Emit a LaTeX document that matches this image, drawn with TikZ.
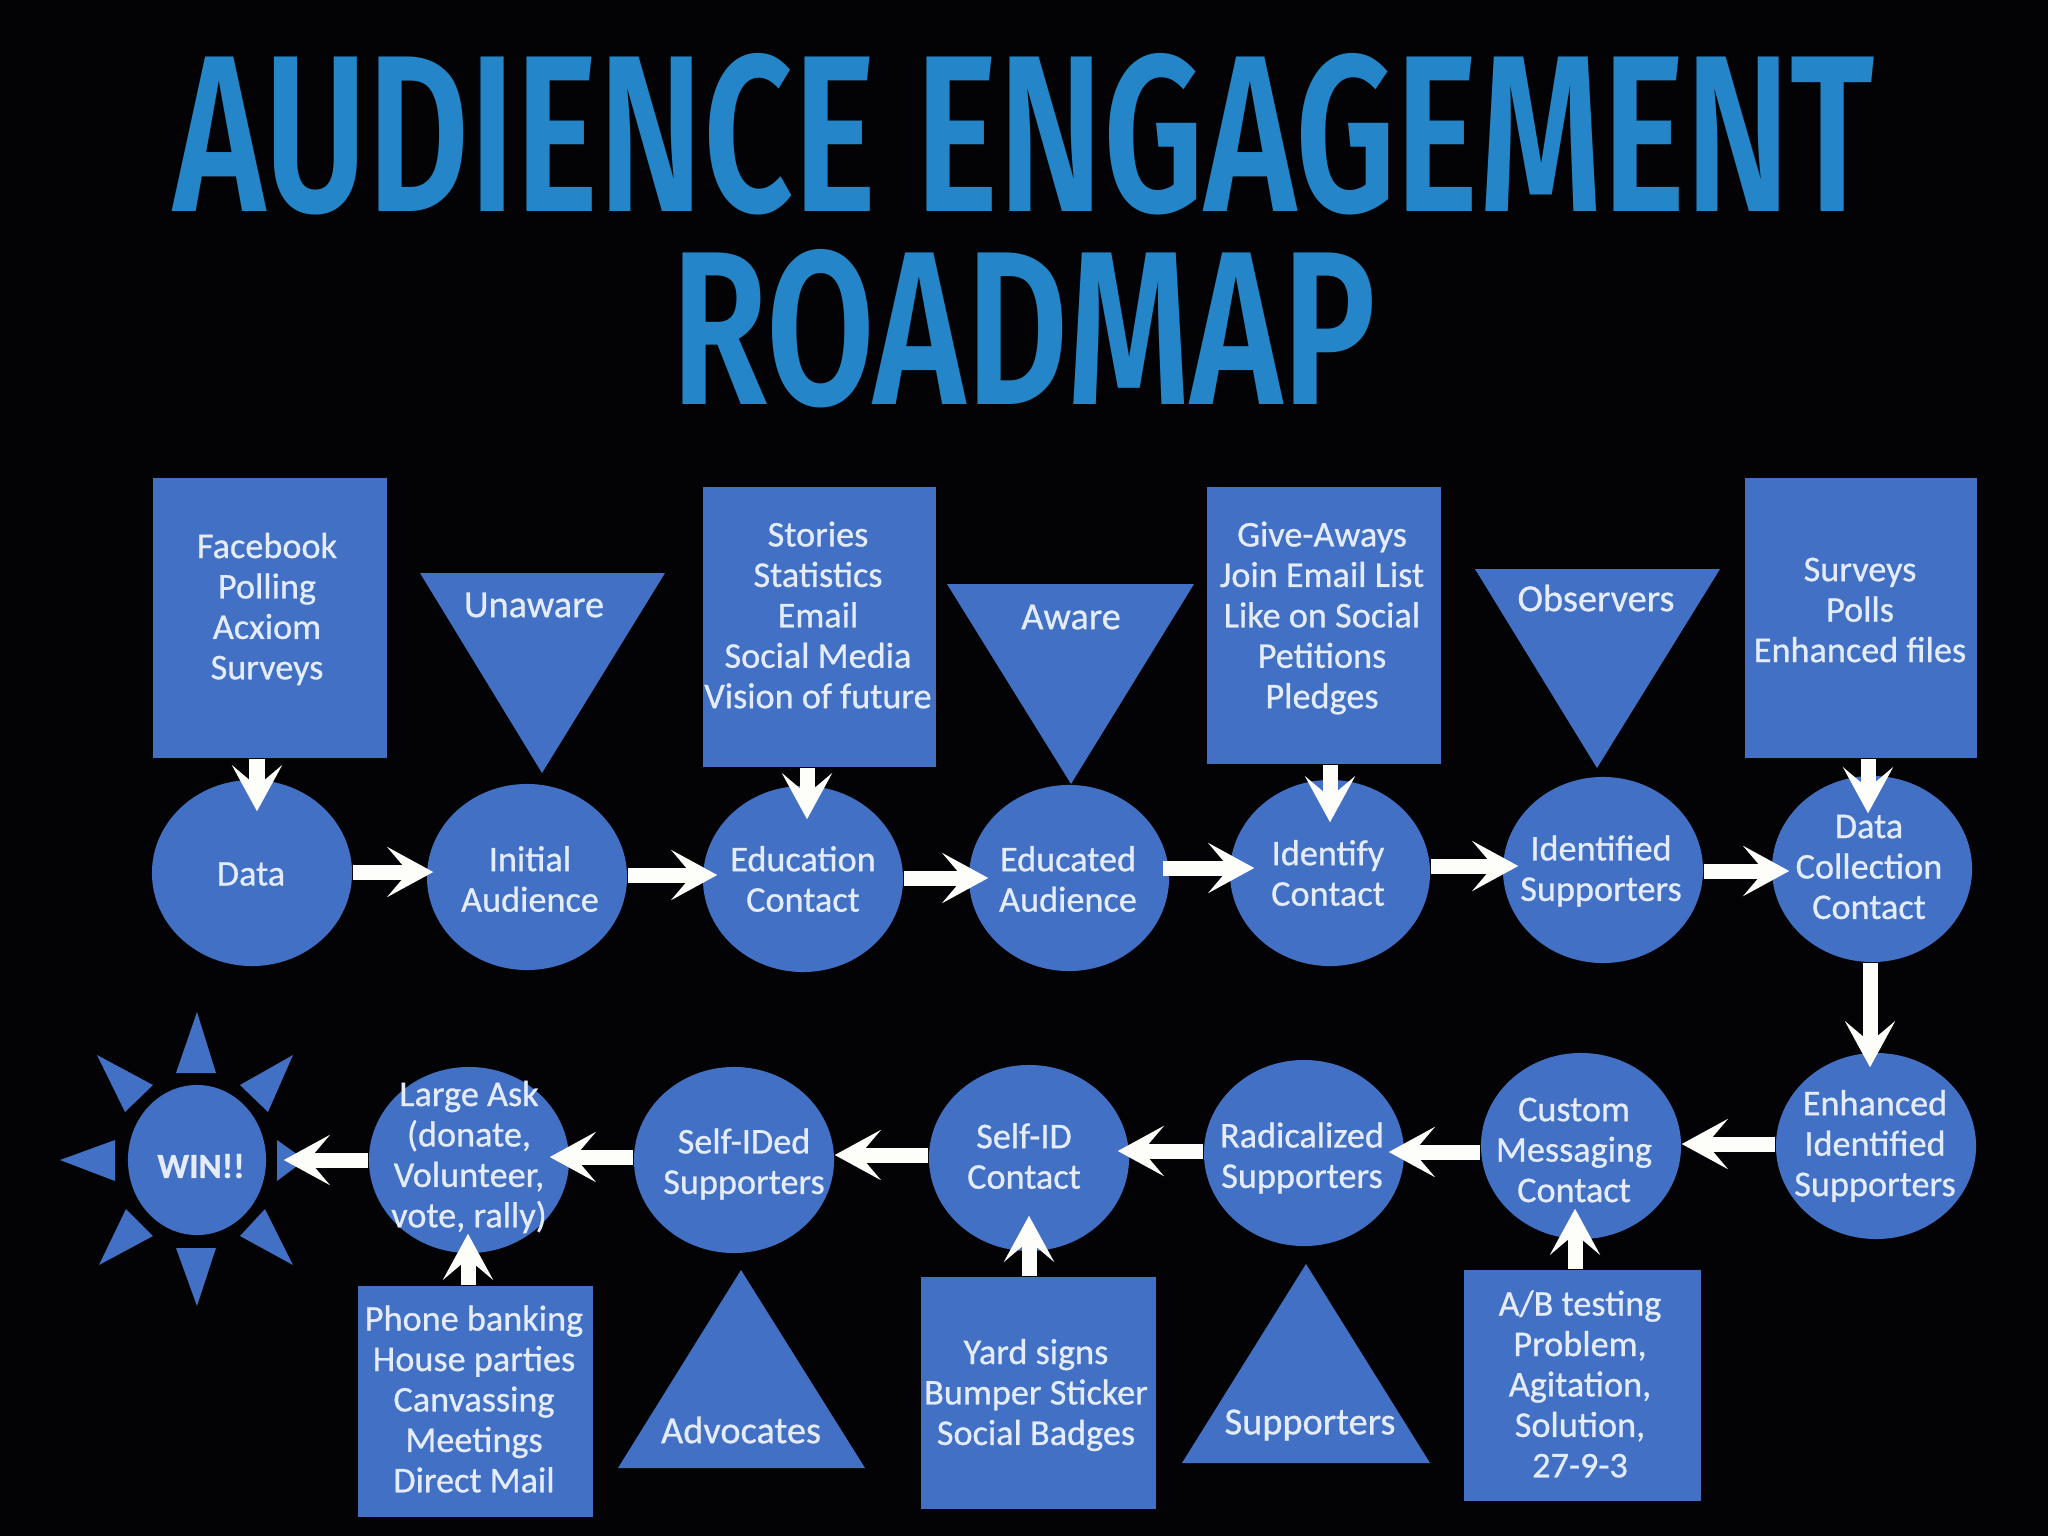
\documentclass[tikz,border=0pt]{standalone}
\usepackage{fontspec}
\usepackage{graphicx}
\setmainfont{Carlito}[FakeBold=0.7]
\newfontfamily\titlefont{Fira Sans SemiBold}
\usetikzlibrary{arrows.meta,shapes.geometric,fit}
\newdimen\px \px=0.28453pt
\definecolor{bg}{HTML}{030305}
\definecolor{shapeblue}{HTML}{4270C4}
\definecolor{titleblue}{HTML}{2486C8}
\definecolor{lbl}{HTML}{E4ECFA}
\definecolor{arrowwhite}{HTML}{FDFDFA}
\tikzset{
  x=0.01cm,y=-0.01cm,
  ell/.style={ellipse,fill=shapeblue,inner sep=0pt,minimum width=200\px,minimum height=186\px},
  bx/.style={rectangle,fill=shapeblue,inner sep=0pt},
  tri/.style={fill=shapeblue},
  txt/.style={text=lbl,align=center,inner sep=0pt,font=\fontsize{10.3pt}{11.5pt}\selectfont},
  txtt/.style={txt,font=\fontsize{10.9pt}{12pt}\selectfont},
  arr/.style={line width=15\px,draw=arrowwhite,-{Stealth[length=13.09pt,width=14.23pt,inset=6pt]}},
  titlenode/.style={text=titleblue,inner sep=0pt,font=\titlefont\fontsize{60pt}{60pt}\selectfont}
}
\begin{document}
\begin{tikzpicture}
\fill[bg] (0,0) rectangle (2048,1536);
\useasboundingbox (0,0) rectangle (2048,1536);
% title
\node[titlenode] (title1) at (1024,134) {\resizebox{1700\px}{158\px}{AUDIENCE ENGAGEMENT}};
\node[titlenode] (title2) at (1024,329) {\resizebox{704\px}{155\px}{ROADMAP}};
% boxes
\node[bx,fit={(153,478)(387,758)}] (b1) {};
\node[bx,fit={(703,487)(936,767)}] (b2) {};
\node[bx,fit={(1207,487)(1441,764)}] (b3) {};
\node[bx,fit={(1745,478)(1977,758)}] (b4) {};
\node[bx,fit={(358,1286)(593,1517)}] (b5) {};
\node[bx,fit={(921,1277)(1156,1509)}] (b6) {};
\node[bx,fit={(1464,1270)(1701,1501)}] (b7) {};
% triangles
\fill[tri] (420,573) -- (665,573) -- (542,773) -- cycle;
\fill[tri] (947,584) -- (1194,584) -- (1071,784) -- cycle;
\fill[tri] (1475,569) -- (1720,569) -- (1597,768) -- cycle;
\fill[tri] (618,1468) -- (865,1468) -- (741,1270) -- cycle;
\fill[tri] (1182,1463) -- (1430,1463) -- (1306,1264) -- cycle;
% sun rays
\fill[tri] (197,1012) -- (176,1073) -- (216,1073) -- cycle;
\fill[tri] (293,1055) -- (240,1085) -- (268,1112) -- cycle;
\fill[tri] (305,1160) -- (277,1140) -- (277,1181) -- cycle;
\fill[tri] (293,1265) -- (240,1236) -- (265,1209) -- cycle;
\fill[tri] (197,1306) -- (176,1248) -- (216,1248) -- cycle;
\fill[tri] (99,1265) -- (153,1236) -- (126,1209) -- cycle;
\fill[tri] (60,1160) -- (115,1140) -- (115,1181) -- cycle;
\fill[tri] (97,1055) -- (153,1085) -- (125,1112) -- cycle;
% circles
\node[ell] (data) at (252,873) {};
\node[ell] (init) at (527,877) {};
\node[ell] (educ) at (803,879) {};
\node[ell] (educd) at (1069,878) {};
\node[ell] (ident) at (1330,873) {};
\node[ell] (identd) at (1603,870) {};
\node[ell] (coll) at (1872,869) {};
\node[ell] (enh) at (1876,1146) {};
\node[ell] (cust) at (1581,1146) {};
\node[ell] (radi) at (1304,1153) {};
\node[ell] (selfid) at (1029,1158) {};
\node[ell] (selfidd) at (734,1160) {};
\node[ell] (large) at (469,1160) {};
\node[ell,minimum width=138\px,minimum height=150\px] (win) at (197,1160) {};
% labels
\node[txt] (t1) at (267,609) {Facebook\\Polling\\Acxiom\\Surveys};
\node[txt] (t2) at (818,615) {Stories\\Statistics\\Email\\Social Media\\Vision of future};
\node[txt] (t3) at (1322,618) {Give-Aways\\Join Email List\\Like on Social\\Petitions\\Pledges};
\node[txt] (t4) at (1860,610) {Surveys\\Polls\\Enhanced files};
\node[txt] (t5) at (474,1399) {Phone banking\\House parties\\Canvassing\\Meetings\\Direct Mail};
\node[txt] (t6) at (1036,1395) {Yard signs\\Bumper Sticker\\Social Badges};
\node[txt] (t7) at (1580,1384) {A/B testing\\Problem,\\Agitation,\\Solution,\\27-9-3};
\node[txtt] (u1) at (534,605) {Unaware};
\node[txtt] (u2) at (1071,617) {Aware};
\node[txtt] (u3) at (1596,598) {Observers};
\node[txtt] (u4) at (741,1430) {Advocates};
\node[txtt] (u5) at (1310,1425) {Supporters};
\node[txt] (c1) at (251,874) {Data};
\node[txt] (c2) at (530,879) {Initial\\Audience};
\node[txt] (c3) at (803,879) {Education\\Contact};
\node[txt] (c4) at (1068,879) {Educated\\Audience};
\node[txt] (c5) at (1328,873) {Identify\\Contact};
\node[txt] (c6) at (1601,871) {Identified\\Supporters};
\node[txt] (c7) at (1869,867) {Data\\Collection\\Contact};
\node[txt] (c8) at (1875,1146) {Enhanced\\Identified\\Supporters};
\node[txt] (c9) at (1574,1150) {Custom\\Messaging\\Contact};
\node[txt] (c10) at (1302,1158) {Radicalized\\Supporters};
\node[txt] (c11) at (1024,1156) {Self-ID\\Contact};
\node[txt] (c12) at (744,1164) {Self-IDed\\Supporters};
\node[txt] (c13) at (469,1157) {Large Ask\\(donate,\\Volunteer,\\vote, rally)};
\node[txt,font=\bfseries\fontsize{10pt}{11.5pt}\selectfont] (c14) at (201,1166) {WIN!!};
% arrows, top row
\draw[arr,shorten >=-7\px] (data.east |- 0,872) -- (init.west |- 0,872);
\draw[arr,shorten >=-15\px] (init.east |- 0,875) -- (educ.west |- 0,875);
\draw[arr,shorten >=-20\px] (educ.east |- 0,878) -- (educd.west |- 0,878);
\draw[arr,shorten <=-7\px,shorten >=-25\px] (educd.east |- 0,868) -- (ident.west |- 0,868);
\draw[arr,shorten >=-16\px] (ident.east |- 0,866) -- (identd.west |- 0,866);
\draw[arr,shorten >=-18\px] (identd.east |- 0,871) -- (coll.west |- 0,871);
% arrows, feeders
\draw[arr,shorten >=-32\px] (257,0 |- b1.south) -- (257,0 |- data.north);
\draw[arr,shorten >=-34\px] (807,0 |- b2.south) -- (807,0 |- educ.north);
\draw[arr,shorten >=-43\px] (1330,0 |- b3.south) -- (1330,0 |- ident.north);
\draw[arr,shorten >=-38\px] (1868,0 |- b4.south) -- (1868,0 |- coll.north);
% arrow down
\draw[arr,shorten >=-15\px] (1870,0 |- coll.south) -- (1870,0 |- enh.north);
% arrows, bottom row
\draw[arr] (enh.west |- 0,1144) -- (cust.east |- 0,1144);
\draw[arr,shorten >=-16\px] (cust.west |- 0,1152) -- (radi.east |- 0,1152);
\draw[arr,shorten >=-12\px] (radi.west |- 0,1151) -- (selfid.east |- 0,1151);
\draw[arr] (selfid.west |- 0,1155) -- (selfidd.east |- 0,1155);
\draw[arr,shorten >=-20\px] (selfidd.west |- 0,1157) -- (large.east |- 0,1157);
\draw[arr,shorten >=17\px] (large.west |- 0,1160) -- (win.east |- 0,1160);
% arrows, up feeders
\draw[arr,shorten >=-20\px] (468,0 |- b5.north) -- (468,0 |- large.south);
\draw[arr,shorten >=-36\px] (1029,0 |- b6.north) -- (1029,0 |- selfid.south);
\draw[arr,shorten >=-31\px] (1575,0 |- b7.north) -- (1575,0 |- cust.south);
\end{tikzpicture}
\end{document}
